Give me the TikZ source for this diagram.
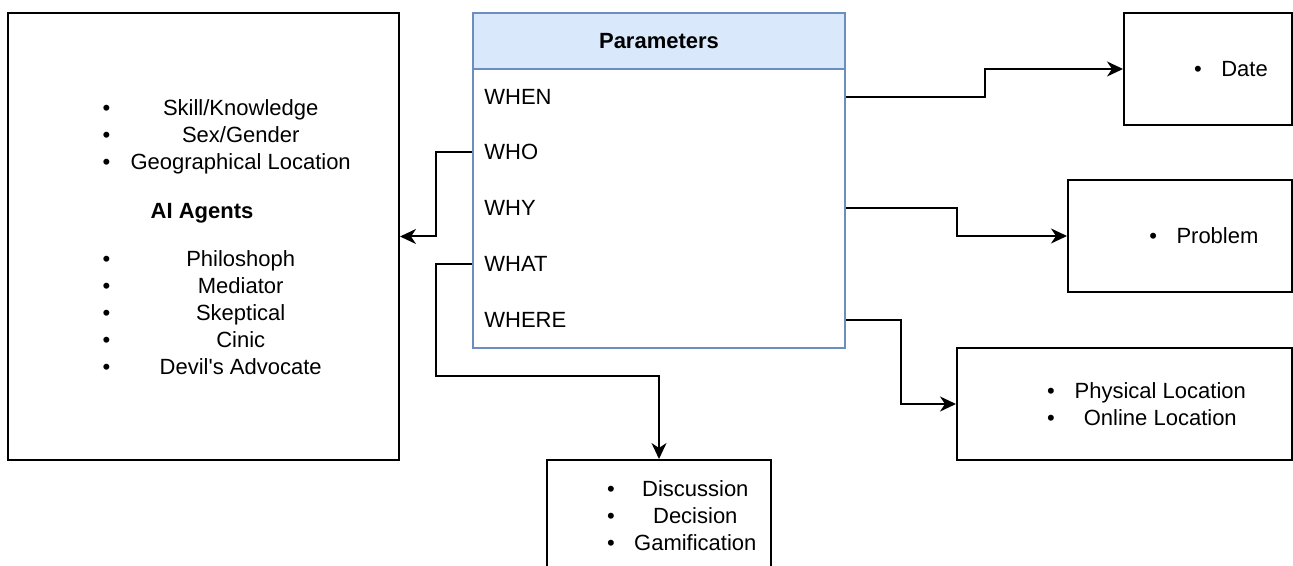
\documentclass[tikz,border=0pt]{standalone}
\usepackage{fontspec}
\setmainfont{Liberation Sans}
\usepackage{tikz}
\usetikzlibrary{arrows.meta,calc}
\definecolor{paramfill}{HTML}{DAE8FC}
\definecolor{paramline}{HTML}{6C8EBF}
\newcommand{\bitem}[2]{\textbullet\hspace{9.7pt}\makebox[#1]{#2}}
\tikzset{
  box/.style={draw,line width=1pt,inner sep=0pt},
  txt/.style={inner sep=0pt,align=left,anchor=west},
  link/.style={draw,line width=1pt,->,>={Stealth[length=8pt,width=7.5pt,inset=2.5pt]}},
}
\begin{document}
\begin{tikzpicture}[x=0.5pt,y=-0.5pt,font=\fontsize{11}{13.5}\selectfont]
      \useasboundingbox (0,0) rectangle (1293,566);
      \clip (0,0) rectangle (1293,566);
      \node[box,minimum width=195.5pt,minimum height=223.5pt](agents) at (203.5,236.5){};
      \node[box,draw=paramline,minimum width=186pt,minimum height=167.5pt](params) at (659,180.5){};
      \node[box,draw=paramline,fill=paramfill,minimum width=186pt,minimum height=28pt,font=\fontsize{11}{13.5}\selectfont\bfseries](head) at (659,41){Parameters};
      \node[box,minimum width=84pt,minimum height=56pt](date) at (1208,69){};
      \node[box,minimum width=112pt,minimum height=56pt](problem) at (1180,236){};
      \node[box,minimum width=167.5pt,minimum height=56pt](place) at (1124.5,404){};
      \node[box,minimum width=112pt,minimum height=56pt](topic) at (659,516){};

      \node[txt](when) at (484,97){WHEN};
      \node[txt](who) at (484,152){WHO};
      \node[txt](why) at (484,208){WHY};
      \node[txt](what) at (484,264){WHAT};
      \node[txt](where) at (484,320){WHERE};

      \node[txt](skills) at (102.2,136.5){\bitem{111pt}{Skill/Knowledge}\\\bitem{111pt}{Sex/Gender}\\\bitem{111pt}{Geographical Location}};
      \node[font=\fontsize{11}{13.5}\selectfont\bfseries](ai) at (202,213){AI Agents};
      \node[txt](roles) at (102.2,313){\bitem{111pt}{Philoshoph}\\\bitem{111pt}{Mediator}\\\bitem{111pt}{Skeptical}\\\bitem{111pt}{Cinic}\\\bitem{111pt}{Devil\textquotesingle s Advocate}};
      \node[txt](dateitem) at (1193.8,69){\bitem{\width}{Date}};
      \node[txt](probitem) at (1149,236){\bitem{\width}{Problem}};
      \node[txt](placeitems) at (1046.8,404){\bitem{86pt}{Physical Location}\\\bitem{86pt}{Online Location}};
      \node[txt](topicitems) at (606.8,516){\bitem{61pt}{Discussion}\\\bitem{61pt}{Decision}\\\bitem{61pt}{Gamification}};

      \coordinate (lbend) at ($(agents.east)!.5!(params.west)$);
      \coordinate (wdrop) at (436,376);
      \coordinate (rb1) at ($(params.east)!.5!(date.west)$);
      \coordinate (rb2) at ($(params.east)!.5!(problem.west)$);
      \coordinate (rb3) at ($(params.east)!.5!(place.west)$);
      \draw[link] (who -| params.west) -| (lbend |- agents.east) -- (agents.east);
      \draw[link] (what -| params.west) -| (wdrop) -| (topic.north);
      \draw[link] (when -| params.east) -| (rb1 |- date.west) -- (date.west);
      \draw[link] (why -| params.east) -| (rb2 |- problem.west) -- (problem.west);
      \draw[link] (where -| params.east) -| (rb3 |- place.west) -- (place.west);
    \end{tikzpicture}
\end{document}
